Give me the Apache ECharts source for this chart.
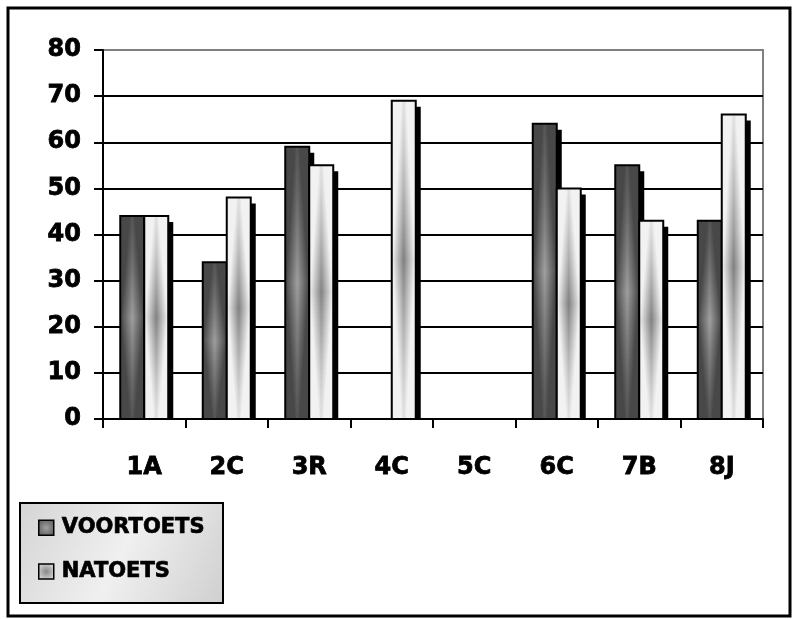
<!DOCTYPE html>
<html>
<head>
<meta charset="utf-8">
<script src="https://cdn.jsdelivr.net/npm/echarts@6/dist/echarts.min.js"></script>
<style>
html,body{margin:0;padding:0;background:#fff;}
#chart{width:798px;height:619px;}
</style>
</head>
<body>
<div id="chart"></div>
<script>
const categories = ['1A', '2C', '3R', '4C', '5C', '6C', '7B', '8J'];
const voortoets = [44, 34, 59, 0, 0, 64, 55, 43];
const natoets = [44, 48, 55, 69, 0, 50, 43, 66];
const seriesNames = ['VOORTOETS', 'NATOETS'];

const chart = echarts.init(document.getElementById('chart'));
const FONT = '"DejaVu Sans", Arial, sans-serif';

// gray levels: [edge, peak at centre-middle]
const shade = [[72, 160], [242, 128]];
function g(v) { v = Math.round(v); return 'rgb(' + v + ',' + v + ',' + v + ')'; }

function sliceFill(which, tt) {
  const edge = shade[which][0], peak = shade[which][1];
  const amt = 0.18 + 0.82 * Math.pow(1 - tt, 1.3);
  const centre = edge + (peak - edge) * amt;
  const s = 0.1 + 0.38 * (1 - tt);
  return new echarts.graphic.LinearGradient(0, 0, 1, 0, [
    {offset: 0, color: g(edge)},
    {offset: Math.max(0, 0.5 - s), color: g(edge)},
    {offset: 0.5, color: g(centre)},
    {offset: Math.min(1, 0.5 + s), color: g(edge)},
    {offset: 1, color: g(edge)}
  ]);
}

function makeRender(which) {
  return function (params, api) {
    const idx = api.value(0);
    const v = api.value(1);
    if (!v) return {type: 'group', children: []};
    const top = api.coord([idx, v]);
    const base = api.coord([idx, 0]);
    const cx = top[0];
    const w = 24;
    const x0 = which === 0 ? cx - w : cx;
    const h = base[1] - top[1];
    const mid = top[1] + h / 2;
    const children = [
      {type: 'rect', shape: {x: x0 + 5, y: top[1] + 6, width: w, height: Math.max(0, h - 6)}, style: {fill: '#000'}},
      {type: 'rect', shape: {x: x0, y: top[1], width: w, height: h}, style: {fill: g(shade[which][0])}}
    ];
    const step = 2;
    for (let yy = top[1]; yy < base[1]; yy += step) {
      const hh = Math.min(step + 0.6, base[1] - yy);
      const tt = Math.min(1, Math.abs(yy + step / 2 - mid) / (h / 2));
      children.push({type: 'rect', shape: {x: x0, y: yy, width: w, height: hh}, style: {fill: sliceFill(which, tt)}});
    }
    children.push({type: 'rect', shape: {x: x0, y: top[1], width: w, height: h}, style: {fill: 'none', stroke: '#000', lineWidth: 2}});
    return {type: 'group', children: children};
  };
}

const labelStyle = {color: '#000', fontFamily: FONT, fontWeight: 'bold', fontSize: 24, textBorderColor: '#000', textBorderWidth: 0.8};

const option = {
  animation: false,
  backgroundColor: '#fff',
  grid: {left: 103, top: 50, width: 660, height: 369, show: true, borderColor: '#808080', borderWidth: 2, backgroundColor: 'transparent'},
  xAxis: {
    type: 'category',
    data: categories,
    axisLine: {show: true, lineStyle: {color: '#000', width: 2}},
    axisTick: {show: true, length: 9, lineStyle: {color: '#000', width: 2}},
    axisLabel: Object.assign({margin: 37}, labelStyle),
    splitLine: {show: false}
  },
  yAxis: {
    type: 'value',
    min: 0, max: 80, interval: 10,
    axisLine: {show: true, lineStyle: {color: '#000', width: 2}},
    axisTick: {show: true, length: 9, lineStyle: {color: '#000', width: 2}},
    axisLabel: Object.assign({margin: 22}, labelStyle),
    splitLine: {show: true, lineStyle: {color: ['#000', '#000', '#000', '#000', '#000', '#000', '#000', '#000', '#808080'], width: 2}}
  },
  legend: {
    orient: 'vertical',
    left: 33, top: 512,
    itemWidth: 15, itemHeight: 15,
    itemGap: 22,
    icon: 'rect',
    textStyle: {color: '#000', fontFamily: FONT, fontWeight: 'bold', fontSize: 21, padding: [0, 0, 0, 3], textBorderColor: '#000', textBorderWidth: 0.7},
    data: [
      {name: seriesNames[0], itemStyle: {color: new echarts.graphic.RadialGradient(0.5, 0.5, 0.7, [{offset: 0, color: '#a0a0a0'}, {offset: 1, color: '#505050'}]), borderColor: '#000', borderWidth: 1.5}},
      {name: seriesNames[1], itemStyle: {color: new echarts.graphic.RadialGradient(0.5, 0.5, 0.7, [{offset: 0, color: '#888'}, {offset: 1, color: '#e8e8e8'}]), borderColor: '#000', borderWidth: 1.5}}
    ]
  },
  graphic: [
    {type: 'rect', z: -10, shape: {x: 20, y: 503, width: 203, height: 100},
      style: {fill: new echarts.graphic.LinearGradient(0, 0, 1, 1, [{offset: 0, color: '#d4d4d4'}, {offset: 0.5, color: '#f0f0f0'}, {offset: 1, color: '#cfcfcf'}]), stroke: '#000', lineWidth: 2}},
    {type: 'rect', z: -20, shape: {x: 8, y: 8, width: 782, height: 608}, style: {fill: 'transparent', stroke: '#000', lineWidth: 3}}
  ],
  series: [
    {name: seriesNames[0], type: 'custom', renderItem: makeRender(0), encode: {x: 0, y: 1},
      itemStyle: {color: '#666'}, data: voortoets.map((v, i) => [i, v])},
    {name: seriesNames[1], type: 'custom', renderItem: makeRender(1), encode: {x: 0, y: 1},
      itemStyle: {color: '#ddd'}, data: natoets.map((v, i) => [i, v])}
  ]
};
chart.setOption(option);
</script>
</body>
</html>
